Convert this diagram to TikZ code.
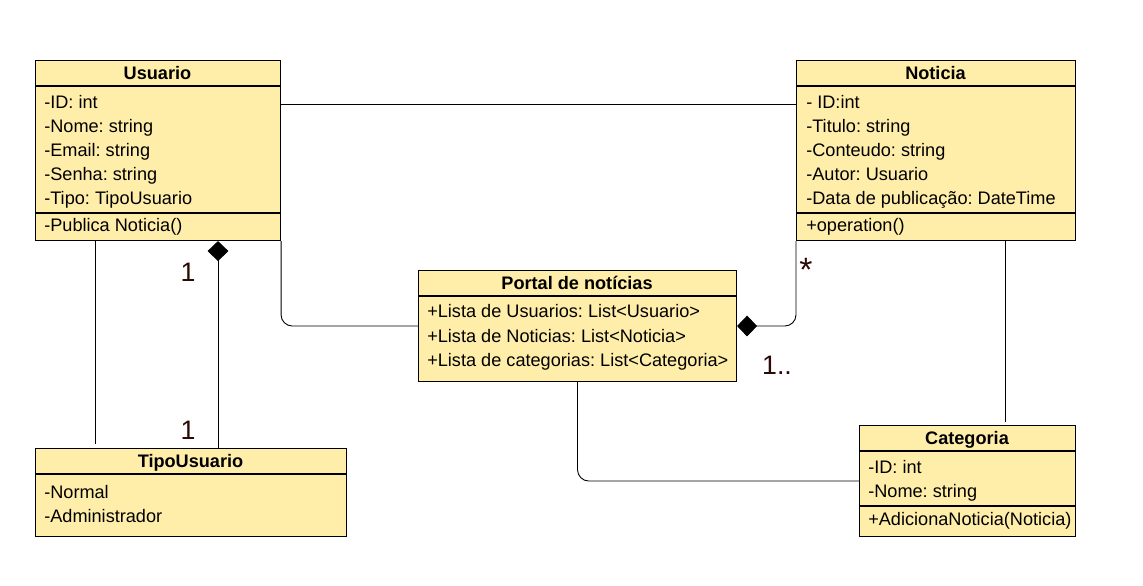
\documentclass[tikz,border=0pt]{standalone}
\usepackage{fontspec}
\setmainfont{Liberation Sans}
\usetikzlibrary{calc,arrows.meta}
\definecolor{umlfill}{HTML}{FFEEAA}
\definecolor{multcol}{HTML}{2A0A05}
\newcommand{\pxu}{0.025cm}
\frenchspacing
\tikzset{%
  classbox/.style = {shape=rectangle, draw, fill=umlfill, anchor=north west,%
                     inner sep=0pt, line width=0.75pt},%
  classname/.style = {anchor=base, inner sep=0pt, font=\fontsize{12.9}{15}\selectfont\bfseries},%
  member/.style    = {anchor=base west, inner sep=0pt, font=\fontsize{12.9}{15}\selectfont},%
  mult/.style      = {font=\fontsize{19}{22}\selectfont, text=multcol},%
  assoc/.style     = {draw, line width=0.65pt, rounded corners=8pt},%
  compo/.style     = {{Diamond[length=0.5cm,width=0.52cm]}-}%
}
\begin{document}
\begin{tikzpicture}[x=\pxu,y=-\pxu]
		\useasboundingbox (0,0) rectangle (1143,585);
		% classes
		\node [classbox, minimum width=245*\pxu, minimum height=180*\pxu] (usuario) at (35,60) {};
		\draw [line width=0.75pt] (35,86) -- (280,86) (35,213) -- (280,213);
		\node [classname] at (157.5,79) {Usuario};
		\node [member] at (44,108) {-ID: int};
		\node [member] at (44,132) {-Nome: string};
		\node [member] at (44,156) {-Email: string};
		\node [member] at (44,180) {-Senha: string};
		\node [member] at (44,204) {-Tipo: TipoUsuario};
		\node [member] at (44,231) {-Publica Noticia()};

		\node [classbox, minimum width=279*\pxu, minimum height=180*\pxu] (noticia) at (796,60) {};
		\draw [line width=0.75pt] (796,86) -- (1075,86) (796,213) -- (1075,213);
		\node [classname] at (935.5,79) {Noticia};
		\node [member] at (806,108) {- ID:int};
		\node [member] at (806,132) {-Titulo: string};
		\node [member] at (806,156) {-Conteudo: string};
		\node [member] at (806,180) {-Autor: Usuario};
		\node [member] at (806,204) {-Data de publicação: DateTime};
		\node [member] at (806,231) {+operation()};

		\node [classbox, minimum width=318*\pxu, minimum height=111*\pxu] (portal) at (418,270) {};
		\draw [line width=0.75pt] (418,296) -- (736,296);
		\node [classname] at (577,289) {Portal de notícias};
		\node [member] at (427,317) {+Lista de Usuarios: List<Usuario>};
		\node [member] at (427,342) {+Lista de Noticias: List<Noticia>};
		\node [member] at (427,366) {+Lista de categorias: List<Categoria>};

		\node [classbox, minimum width=311*\pxu, minimum height=88*\pxu] (tipo) at (35,448) {};
		\draw [line width=0.75pt] (35,474) -- (346,474);
		\node [classname] at (190.5,467) {TipoUsuario};
		\node [member] at (44,498) {-Normal};
		\node [member] at (44,522) {-Administrador};

		\node [classbox, minimum width=216*\pxu, minimum height=111*\pxu] (categoria) at (859,425) {};
		\draw [line width=0.75pt] (859,451) -- (1075,451) (859,506) -- (1075,506);
		\node [classname] at (967,444) {Categoria};
		\node [member] at (868,473) {-ID: int};
		\node [member] at (868,497) {-Nome: string};
		\node [member] at (868,525) {+AdicionaNoticia(Noticia)};

		% connectors
		\coordinate (c1) at ($(usuario.north east)+(0,44)$);
		\draw [assoc] (c1) -- (c1 -| noticia.west);
		\coordinate (c2) at ($(usuario.south west)+(60,0)$);
		\coordinate (c3) at ($(c2)+(0,203)$);
		\draw [assoc] (c2) -- (c3);
		\coordinate (c4) at ($(usuario.south west)+(183,0)$);
		\draw [assoc, compo] (c4) -- (c4 |- tipo.north);
		\draw [assoc] (usuario.south east) |- (portal.west);
		\draw [assoc, compo] (portal.east) -| (noticia.south west);
		\coordinate (c5) at ($(noticia.south west)+(209,0)$);
		\draw [assoc] (c5) -- ($(c5 |- categoria.north)+(0,-3)$);
		\draw [assoc] (portal.south) |- (categoria.west);

		% multiplicities
		\node [mult] at (188,272) {1};
		\node [mult] at (188,430) {1};
		\node [mult, font=\fontsize{24}{26}\selectfont] at (806,270) {*};
		\node [mult] at (777,365) {1..};
\end{tikzpicture}
\end{document}
